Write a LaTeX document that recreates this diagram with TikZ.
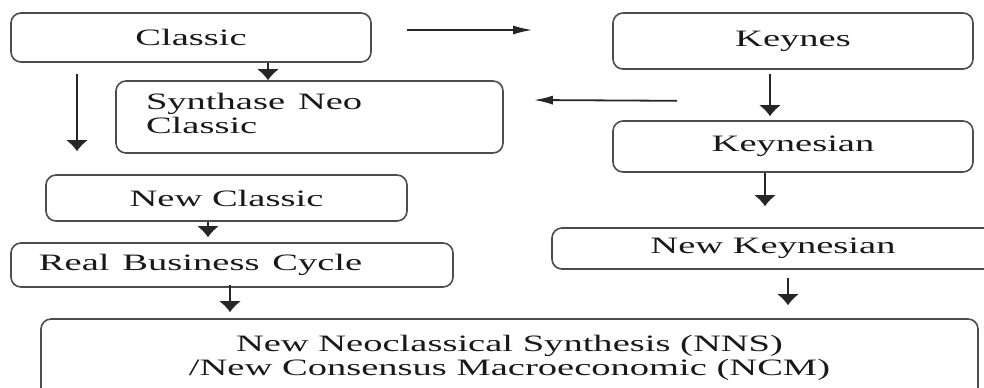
\documentclass[tikz,border=0pt]{standalone}
\usepackage{fontspec}
\usepackage{graphicx}
\usepackage{tikz}
\usetikzlibrary{arrows.meta}
\setmainfont{Liberation Serif}
\newcommand{\widetxt}[1]{\scalebox{1.64}[1]{#1}}

\begin{document}
\begin{tikzpicture}[x=0.5pt, y=-0.5pt,
  box/.style={draw=black!70, line width=0.8pt, rounded corners=5pt,
              inner sep=0pt, text=black!90,
              font=\fontsize{11.75}{12}\selectfont},
  leftbox/.style={box, align=left},
  varr/.style={-{Latex[length=5.5pt,width=11pt]}, line width=0.9pt, black!85},
  harr/.style={-{Latex[length=9.5pt,width=4.5pt]}, line width=0.9pt, black!85}]
\useasboundingbox (0,0) rectangle (984,387);
%classic line
\node[box, minimum width=180pt, minimum height=24.5pt] (classic) at (191,37.5)
     {\widetxt{Classic}};
\node[leftbox, minimum height=36pt, text width=163.5pt, inner xsep=15pt]
     (synth) at (309.5,117)
     {\widetxt{\begin{tabular}{@{}l@{}}Synthase Neo\\Classic\end{tabular}}};
\node[box, minimum width=180.5pt, minimum height=23pt] (newclassic) at (226.5,198)
     {\widetxt{New Classic}};
\node[leftbox, minimum height=22pt, text width=193pt, inner xsep=14pt]
     (rbc) at (232,265) {\widetxt{Real Business Cycle}};
%keynes line
\node[box, minimum width=180pt, minimum height=28pt] (keynes) at (793,41)
     {\widetxt{Keynes}};
\node[box, minimum width=180pt, minimum height=25.5pt] (keynesian) at (793,146.5)
     {\widetxt{Keynesian}};
\node[box, minimum width=221pt, minimum height=20.5pt] (newkeyn) at (773,248.5)
     {\widetxt{New Keynesian}};
%synthesis
\node[box, minimum width=468.5pt, minimum height=39.5pt, align=center]
     (final) at (509.5,358.5)
     {\widetxt{\begin{tabular}{@{}c@{}}New Neoclassical Synthesis (NNS)\\
      /New Consensus Macroeconomic (NCM)\end{tabular}}};
%horizontal arrows
\draw[harr] ([shift={(35,-7.5)}]classic.east) -- ([shift={(-80,-11)}]keynes.west);
\draw[harr] ([shift={(-116,31)}]keynes.south) -- ([shift={(30,-17)}]synth.east);
%vertical arrows
\draw[varr] ([xshift=38.5pt]classic.south) -- ([xshift=38.5pt]classic.south |- synth.north);
\draw[varr] ([shift={(-114,11)}]classic.south) -- ([shift={(-149.5,-23)}]newclassic.north);
\draw[varr] ([shift={(-18.5,0)}]newclassic.south) -- ([shift={(-24,-5)}]rbc.north);
\draw[varr] ([shift={(-2,-3)}]rbc.south) -- ([shift={(-279.5,-6)}]final.north);
\draw[varr] ([shift={(-23,4)}]keynes.south) -- ([shift={(-23,-4)}]keynesian.north);
\draw[varr] ([shift={(-28,0)}]keynesian.south) -- ([shift={(-8,-21)}]newkeyn.north);
\draw[varr] ([shift={(15,8)}]newkeyn.south) -- ([shift={(278.5,-13)}]final.north);
\end{tikzpicture}
\end{document}
